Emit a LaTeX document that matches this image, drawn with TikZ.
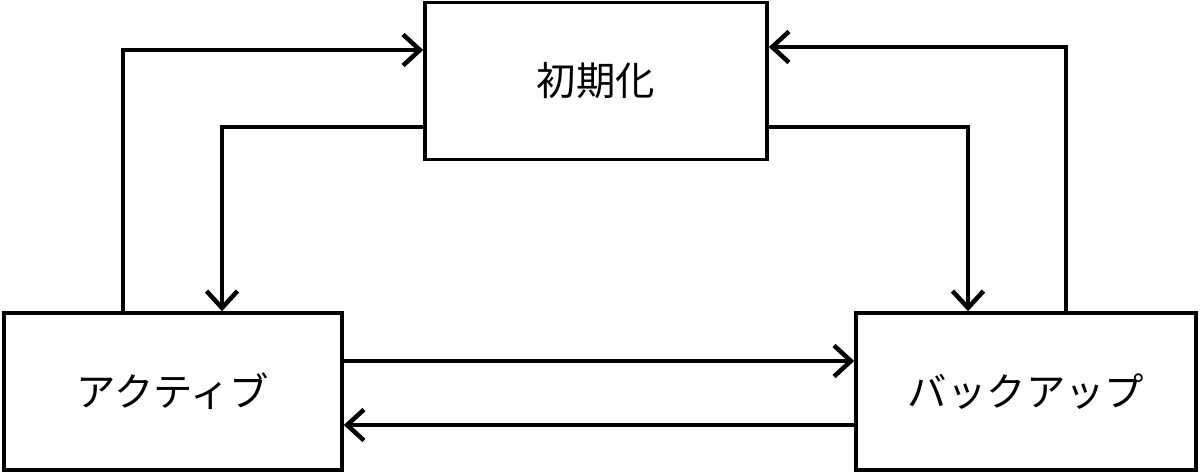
\documentclass[tikz,border=0pt]{standalone}
\usepackage{fontspec}
\newfontfamily\jpfont{Noto Sans CJK JP}
\usetikzlibrary{arrows.meta,calc}

\begin{document}
\begin{tikzpicture}[x=0.025cm,y=-0.025cm,>={Straight Barb[length=12pt,width=22pt]}
        ,link/.style = {->,line width=3.2pt}
        ,state/.style = {draw=black,line width=2.5pt,rectangle,minimum height=157*0.025cm,font=\jpfont\fontsize{28}{34}\selectfont}
      ]
      \useasboundingbox (0,0) rectangle (1200,474);

      \node[state,minimum width=342*0.025cm](init) at (596,81) {初期化};
      \node[state,minimum width=338*0.025cm](act) at (173,391.5) {アクティブ};
      \node[state,minimum width=340*0.025cm](bak) at (1026,391.5) {バックアップ};

      \coordinate (c1) at (123,50);
      \coordinate (c2) at (222,127);
      \coordinate (c3) at (968,127);
      \coordinate (c4) at (1066,47);
      \coordinate (c5) at (600,361);
      \coordinate (c6) at (600,425);

      \draw[link] (act.north -| c1) |- (init.west |- c1);
      \draw[link] (init.west |- c2) -| (act.north -| c2);
      \draw[link] (init.east |- c3) -| (bak.north -| c3);
      \draw[link] (bak.north -| c4) |- (init.east |- c4);
      \draw[link] (act.east |- c5) -- (bak.west |- c5);
      \draw[link] (bak.west |- c6) -- (act.east |- c6);
    \end{tikzpicture}
\end{document}
